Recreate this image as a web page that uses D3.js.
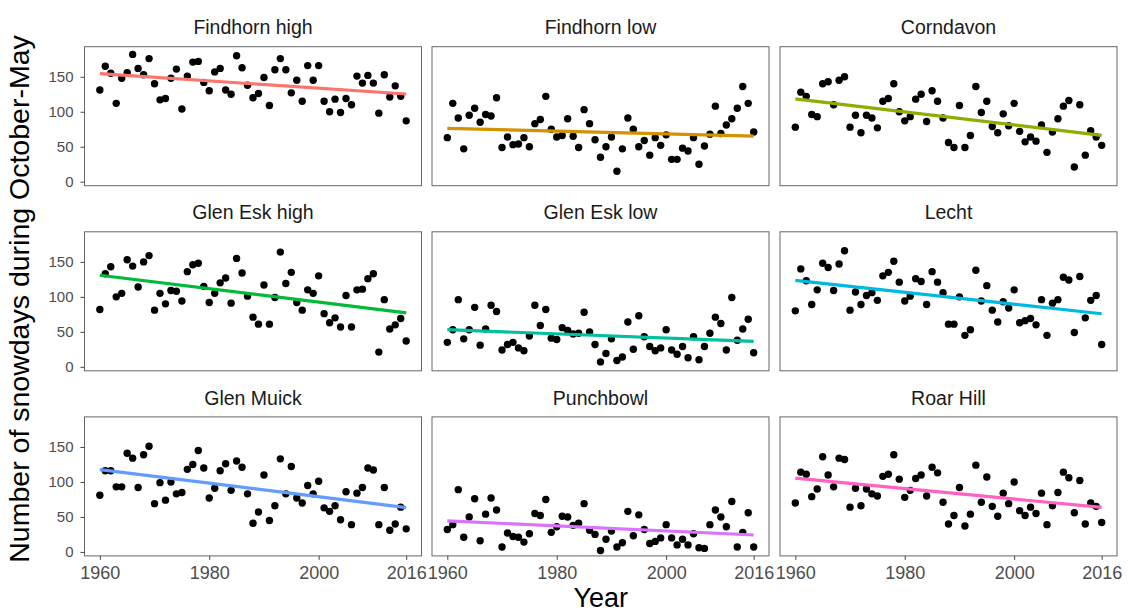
<!DOCTYPE html>
<html>
<head>
<meta charset="utf-8">
<script src="https://cdn.jsdelivr.net/npm/d3@7"></script>
<style>
  body { margin: 0; background: #fff; }
  svg { display: block; font-family: "Liberation Sans", Arial, Helvetica, sans-serif; }
</style>
</head>
<body>
<div id="chart"></div>
<script>
// snowdays per season (October-May), one value per year 1960..2016
const years = d3.range(1960, 2017)
const yearTicks = [1960, 1980, 2000, 2016]
const dayTicks = [0, 50, 100, 150]

const sites = ["Findhorn high", "Findhorn low", "Corndavon",
               "Glen Esk high", "Glen Esk low", "Lecht",
               "Glen Muick", "Punchbowl", "Roar Hill"]
const colors = ["#F8766D", "#D39200", "#93AA00", "#00BA38", "#00C19F",
                "#00B9E3", "#619CFF", "#DB72FB", "#FF61C3"]

const findhornHigh = [131,165,155,112,148,156,182,162,153,176,140,117,119,148,161,104,151,171,172,142,
  130,157,162,131,125,180,163,138,120,126,149,109,160,176,160,127,145,115,166,145,
  166,115,100,118,99,119,110,151,141,152,141,98,153,121,137,122,87]
const findhornLow = [63,112,91,47,95,105,85,96,94,120,49,64,53,54,63,50,83,89,122,75,
  64,66,90,65,49,103,83,60,35,50,64,15,47,91,75,50,59,38,63,52,
  67,32,32,48,44,63,25,51,68,108,69,81,90,105,136,112,71]
const corndavon = [78,128,122,96,93,140,143,110,145,150,78,95,70,95,91,77,115,119,140,100,
  87,93,118,125,86,130,115,91,56,49,109,49,66,136,99,115,79,70,97,80,
  112,72,57,64,58,81,42,71,90,108,116,21,110,38,73,64,52]
const glenEskHigh = [82,133,143,100,105,153,144,114,150,159,81,105,90,109,108,94,136,146,148,115,
  92,105,120,127,91,155,134,101,71,61,117,61,99,164,119,135,92,81,110,105,
  130,76,63,70,57,102,57,110,111,126,133,21,96,54,60,69,37]
const glenEskLow = [35,53,96,40,53,85,31,54,88,79,24,32,35,27,23,44,88,59,82,41,
  39,56,52,47,48,78,50,32,7,19,40,9,14,64,25,73,43,29,23,27,
  53,24,18,29,13,43,10,29,48,71,62,24,99,38,54,68,20]
const lecht = [80,140,123,89,110,148,142,109,147,166,81,107,89,102,106,95,130,135,151,121,
  94,101,126,122,89,136,121,106,61,61,100,45,53,138,94,116,81,64,93,84,
  110,63,66,69,60,96,45,91,96,128,124,49,129,70,95,102,32]
const glenMuick = [81,116,116,93,93,141,134,92,139,151,69,99,74,100,83,85,118,125,145,120,
  77,91,116,126,88,130,121,83,41,57,110,45,66,133,83,122,77,70,95,83,
  101,63,58,66,46,86,39,84,92,120,117,39,92,31,40,64,33]
const punchbowl = [32,39,89,21,50,76,16,54,77,60,7,27,22,21,14,26,55,52,75,28,
  36,51,50,38,41,69,31,25,2,18,30,7,13,58,23,53,32,12,15,20,
  39,20,10,18,10,26,6,5,39,60,50,36,72,7,28,56,7]
const roarHill = [70,114,111,79,90,136,110,93,134,132,64,91,66,90,83,80,108,111,139,104,
  78,88,105,110,80,121,113,71,40,52,92,37,54,124,71,107,65,51,84,69,
  100,59,52,64,55,84,39,66,85,114,106,56,102,40,70,65,42]

const series = [findhornHigh, findhornLow, corndavon, glenEskHigh, glenEskLow,
                lecht, glenMuick, punchbowl, roarHill]

const W = 1130, H = 613
const panelW = 337, panelH = 139
const colX = [84.5, 432, 780]
const rowY = [46.7, 231.8, 416.9]

const svg = d3.select("#chart").append("svg")
  .attr("width", W).attr("height", H)

// shared scales (facets use fixed scales)
const x = d3.scaleLinear().domain([1957.2, 2018.8]).range([0, panelW])
const y = d3.scaleLinear().domain([-5.7, 193]).range([panelH, 0])

// ordinary least squares fit, same as geom_smooth(method = "lm")
function fit(vals) {
  const mx = d3.mean(years), my = d3.mean(vals)
  let sxy = 0, sxx = 0
  years.forEach((yr, i) => {
    sxy += (yr - mx) * (vals[i] - my)
    sxx += (yr - mx) * (yr - mx)
  })
  const b = sxy / sxx
  return yr => my + b * (yr - mx)
}

sites.forEach((name, i) => {
  const col = i % 3, row = Math.floor(i / 3)
  const g = svg.append("g")
    .attr("transform", `translate(${colX[col]},${rowY[row]})`)
  const vals = series[i]

  g.append("text")
    .attr("x", panelW / 2).attr("y", -12.4)
    .attr("text-anchor", "middle")
    .attr("font-size", 19.5)
    .attr("fill", "#1a1a1a")
    .text(name)

  g.selectAll("circle")
    .data(vals)
    .join("circle")
    .attr("cx", (d, j) => x(years[j]))
    .attr("cy", d => y(d))
    .attr("r", 3.7)
    .attr("fill", "#000")

  const f = fit(vals)
  const line = d3.line().x(d => x(d)).y(d => y(f(d)))
  g.append("path")
    .attr("d", line([years[0], years[years.length - 1]]))
    .attr("stroke", colors[i])
    .attr("stroke-width", 3.2)
    .attr("fill", "none")

  g.append("rect")
    .attr("width", panelW).attr("height", panelH)
    .attr("fill", "none")
    .attr("stroke", "#666")
    .attr("stroke-width", 1)

  if (col === 0) {
    const ax = g.append("g")
      .call(d3.axisLeft(y).tickValues(dayTicks).tickSize(4).tickPadding(7))
    ax.select(".domain").remove()
    ax.selectAll("line").attr("stroke", "#444")
    ax.selectAll("text").attr("font-size", 15).attr("fill", "#4d4d4d")
      .attr("font-family", null)
  }
  if (row === 2) {
    const ax = g.append("g")
      .attr("transform", `translate(0,${panelH})`)
      .call(d3.axisBottom(x).tickValues(yearTicks).tickFormat(d3.format("d")).tickSize(4).tickPadding(6.5))
    ax.select(".domain").remove()
    ax.selectAll("line").attr("stroke", "#444")
    ax.selectAll("text").attr("font-size", 18).attr("fill", "#4d4d4d")
      .attr("font-family", null)
  }
})

svg.append("text")
  .attr("x", (colX[0] + colX[2] + panelW) / 2).attr("y", 607)
  .attr("text-anchor", "middle")
  .attr("font-size", 27)
  .text("Year")

svg.append("text")
  .attr("transform", "translate(29,299) rotate(-90)")
  .attr("text-anchor", "middle")
  .attr("font-size", 28.5)
  .text("Number of snowdays during October-May")
</script>
</body>
</html>
